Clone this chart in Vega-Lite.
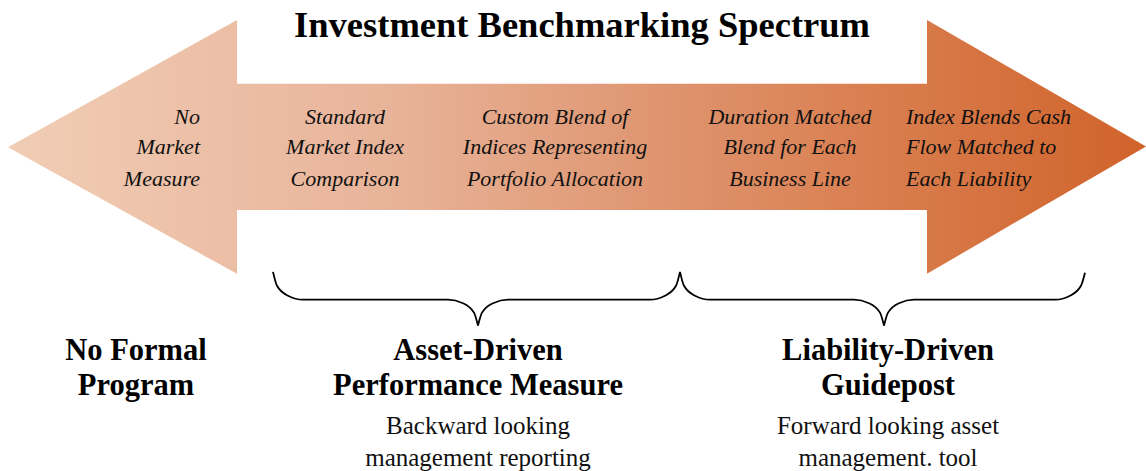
{
  "$schema": "https://vega.github.io/schema/vega-lite/v6.json",
  "width": 1146,
  "height": 471,
  "autosize": {"type": "fit", "contains": "padding"},
  "padding": 0,
  "background": "white",
  "config": {"view": {"stroke": null}},
  "datasets": {
    "arrow": [
      {"x": 8, "y": 148, "y2": 148},
      {"x": 237, "y": 20, "y2": 275},
      {"x": 237, "y": 84, "y2": 211},
      {"x": 927, "y": 84, "y2": 211},
      {"x": 927, "y": 20, "y2": 275},
      {"x": 1146, "y": 147, "y2": 147}
    ],
    "braces": [
      {"seg": "a1", "o": 1, "x": 273, "y": 273},
      {"seg": "a1", "o": 2, "x": 277, "y": 287},
      {"seg": "a1", "o": 3, "x": 288, "y": 297},
      {"seg": "a1", "o": 4, "x": 303, "y": 301},
      {"seg": "a1", "o": 5, "x": 448, "y": 301},
      {"seg": "a1", "o": 6, "x": 463, "y": 304.5},
      {"seg": "a1", "o": 7, "x": 474, "y": 314},
      {"seg": "a1", "o": 8, "x": 478, "y": 327},
      {"seg": "a2", "o": 1, "x": 478, "y": 327},
      {"seg": "a2", "o": 2, "x": 482, "y": 314},
      {"seg": "a2", "o": 3, "x": 493, "y": 304.5},
      {"seg": "a2", "o": 4, "x": 508, "y": 301},
      {"seg": "a2", "o": 5, "x": 650, "y": 301},
      {"seg": "a2", "o": 6, "x": 665, "y": 297},
      {"seg": "a2", "o": 7, "x": 676, "y": 287},
      {"seg": "a2", "o": 8, "x": 680, "y": 273},
      {"seg": "b1", "o": 1, "x": 680, "y": 273},
      {"seg": "b1", "o": 2, "x": 684, "y": 287},
      {"seg": "b1", "o": 3, "x": 695, "y": 297},
      {"seg": "b1", "o": 4, "x": 710, "y": 301},
      {"seg": "b1", "o": 5, "x": 854, "y": 301},
      {"seg": "b1", "o": 6, "x": 869, "y": 304.5},
      {"seg": "b1", "o": 7, "x": 880, "y": 314},
      {"seg": "b1", "o": 8, "x": 884, "y": 327},
      {"seg": "b2", "o": 1, "x": 884, "y": 327},
      {"seg": "b2", "o": 2, "x": 888, "y": 314},
      {"seg": "b2", "o": 3, "x": 899, "y": 304.5},
      {"seg": "b2", "o": 4, "x": 914, "y": 301},
      {"seg": "b2", "o": 5, "x": 1055, "y": 301},
      {"seg": "b2", "o": 6, "x": 1070, "y": 297},
      {"seg": "b2", "o": 7, "x": 1081, "y": 287},
      {"seg": "b2", "o": 8, "x": 1085, "y": 274}
    ],
    "title": [
      {"x": 582, "y": 26, "text": "Investment Benchmarking Spectrum"}
    ],
    "italicRight": [
      {"x": 200, "y": 117, "text": "No"},
      {"x": 200, "y": 148, "text": "Market"},
      {"x": 200, "y": 180, "text": "Measure"}
    ],
    "italicCenter": [
      {"x": 345, "y": 117, "text": "Standard"},
      {"x": 345, "y": 148, "text": "Market Index"},
      {"x": 345, "y": 180, "text": "Comparison"},
      {"x": 555, "y": 117, "text": "Custom Blend of"},
      {"x": 555, "y": 148, "text": "Indices Representing"},
      {"x": 555, "y": 180, "text": "Portfolio Allocation"},
      {"x": 790, "y": 117, "text": "Duration Matched"},
      {"x": 790, "y": 148, "text": "Blend for Each"},
      {"x": 790, "y": 180, "text": "Business Line"}
    ],
    "italicLeft": [
      {"x": 906, "y": 117, "text": "Index Blends Cash"},
      {"x": 906, "y": 148, "text": "Flow Matched to"},
      {"x": 906, "y": 180, "text": "Each Liability"}
    ],
    "boldBottom": [
      {"x": 136, "y": 352, "text": "No Formal"},
      {"x": 136, "y": 388, "text": "Program"},
      {"x": 478, "y": 352, "text": "Asset-Driven"},
      {"x": 478, "y": 388, "text": "Performance Measure"},
      {"x": 888, "y": 352, "text": "Liability-Driven"},
      {"x": 888, "y": 388, "text": "Guidepost"}
    ],
    "regularBottom": [
      {"x": 478, "y": 428, "text": "Backward looking"},
      {"x": 478, "y": 460, "text": "management reporting"},
      {"x": 888, "y": 428, "text": "Forward looking asset"},
      {"x": 888, "y": 460, "text": "management. tool"}
    ]
  },
  "layer": [
    {
      "data": {"name": "arrow"},
      "mark": {
        "type": "area",
        "interpolate": "linear",
        "color": {
          "gradient": "linear",
          "x1": 0, "y1": 0, "x2": 1, "y2": 0,
          "stops": [
            {"offset": 0, "color": "#f1cdb5"},
            {"offset": 0.33, "color": "#e8b49a"},
            {"offset": 0.57, "color": "#df9570"},
            {"offset": 0.77, "color": "#d97d4e"},
            {"offset": 1, "color": "#d0632a"}
          ]
        }
      },
      "encoding": {
        "x": {"field": "x", "type": "quantitative", "scale": {"domain": [0, 1146], "nice": false, "zero": false}, "axis": null},
        "y": {"field": "y", "type": "quantitative", "scale": {"domain": [471, 0], "nice": false, "zero": false}, "axis": null},
        "y2": {"field": "y2"}
      }
    },
    {
      "data": {"name": "braces"},
      "mark": {"type": "line", "interpolate": "monotone", "color": "#000000", "strokeWidth": 1.8},
      "encoding": {
        "x": {"field": "x", "type": "quantitative", "scale": {"domain": [0, 1146], "nice": false, "zero": false}, "axis": null},
        "y": {"field": "y", "type": "quantitative", "scale": {"domain": [471, 0], "nice": false, "zero": false}, "axis": null},
        "detail": {"field": "seg"},
        "order": {"field": "o", "type": "quantitative"}
      }
    },
    {
      "data": {"name": "title"},
      "mark": {"type": "text", "font": "Liberation Serif", "fontWeight": "bold", "fontSize": 36.5, "align": "center", "baseline": "middle", "color": "#000000"},
      "encoding": {
        "x": {"field": "x", "type": "quantitative", "axis": null},
        "y": {"field": "y", "type": "quantitative", "axis": null},
        "text": {"field": "text"}
      }
    },
    {
      "data": {"name": "italicRight"},
      "mark": {"type": "text", "font": "Liberation Serif", "fontStyle": "italic", "fontSize": 22, "align": "right", "baseline": "middle", "color": "#111111"},
      "encoding": {
        "x": {"field": "x", "type": "quantitative", "axis": null},
        "y": {"field": "y", "type": "quantitative", "axis": null},
        "text": {"field": "text"}
      }
    },
    {
      "data": {"name": "italicCenter"},
      "mark": {"type": "text", "font": "Liberation Serif", "fontStyle": "italic", "fontSize": 22, "align": "center", "baseline": "middle", "color": "#111111"},
      "encoding": {
        "x": {"field": "x", "type": "quantitative", "axis": null},
        "y": {"field": "y", "type": "quantitative", "axis": null},
        "text": {"field": "text"}
      }
    },
    {
      "data": {"name": "italicLeft"},
      "mark": {"type": "text", "font": "Liberation Serif", "fontStyle": "italic", "fontSize": 22, "align": "left", "baseline": "middle", "color": "#111111"},
      "encoding": {
        "x": {"field": "x", "type": "quantitative", "axis": null},
        "y": {"field": "y", "type": "quantitative", "axis": null},
        "text": {"field": "text"}
      }
    },
    {
      "data": {"name": "boldBottom"},
      "mark": {"type": "text", "font": "Liberation Serif", "fontWeight": "bold", "fontSize": 30.5, "align": "center", "baseline": "middle", "color": "#000000"},
      "encoding": {
        "x": {"field": "x", "type": "quantitative", "axis": null},
        "y": {"field": "y", "type": "quantitative", "axis": null},
        "text": {"field": "text"}
      }
    },
    {
      "data": {"name": "regularBottom"},
      "mark": {"type": "text", "font": "Liberation Serif", "fontSize": 25, "align": "center", "baseline": "middle", "color": "#111111"},
      "encoding": {
        "x": {"field": "x", "type": "quantitative", "axis": null},
        "y": {"field": "y", "type": "quantitative", "axis": null},
        "text": {"field": "text"}
      }
    }
  ]
}
